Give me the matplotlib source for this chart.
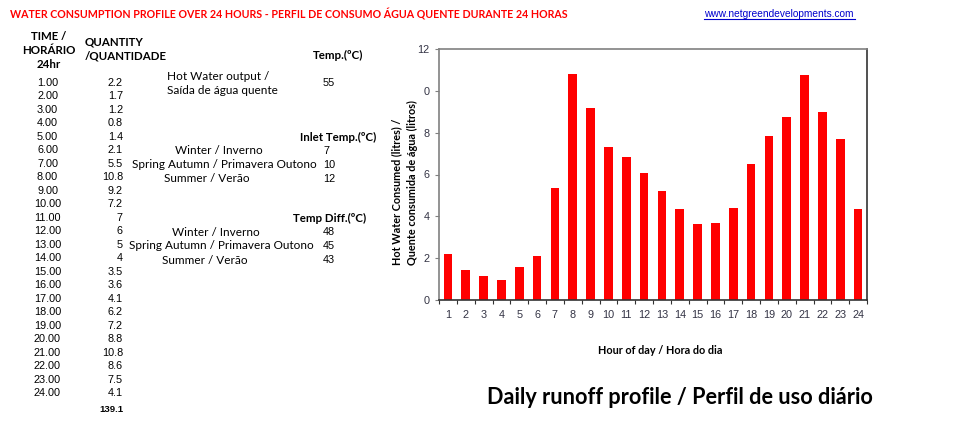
import numpy as np
import matplotlib
matplotlib.use("Agg")
import matplotlib.pyplot as plt

# table data (left side of sheet)
times = ["%d.00" % h for h in range(1, 25)]
quantities = ["2.2", "1.7", "1.2", "0.8", "1.4", "2.1", "5.5", "10.8", "9.2", "7.2",
              "7", "6", "5", "4", "3.5", "3.6", "4.1", "6.2", "7.2", "8.8",
              "10.8", "8.6", "7.5", "4.1"]
total = "139.1"
seasons = ["Winter / Inverno", "Spring Autumn / Primavera Outono", "Summer / Verão"]
inlet_temps = ["7", "10", "12"]
temp_diffs = ["48", "45", "43"]
hot_water_temp = "55"

# bar chart data
hours = np.arange(1, 25)
consumed = [2.22, 1.42, 1.15, 0.98, 1.57, 2.11, 5.34, 10.82, 9.17, 7.33,
            6.86, 6.05, 5.23, 4.34, 3.65, 3.68, 4.42, 6.5, 7.82, 8.74,
            10.78, 8.98, 7.71, 4.35]
ytick_vals = [0, 2, 4, 6, 8, 10, 12]
ytick_labels = ["0", "2", "4", "6", "8", "0", "12"]

W, H = 960, 430
fig = plt.figure(figsize=(W / 100, H / 100), dpi=100)

CAL = ["Lato", "DejaVu Sans"]
ARL = ["Liberation Sans", "DejaVu Sans"]


def px(x, y, s, **kw):
    # place text using pixel coords of the screenshot
    fig.text(x / W, 1 - y / H, s, **kw)


# header line
px(10, 14, "WATER CONSUMPTION PROFILE OVER 24 HOURS - PERFIL DE CONSUMO ÁGUA QUENTE DURANTE 24 HORAS",
   color="#ff0000", fontsize=7.7, fontweight="bold", family=CAL, va="center")
px(704, 14, "www.netgreendevelopments.com", color="#0000cc",
   fontsize=7.3, family=ARL, va="center")
fig.lines.append(plt.Line2D([704 / W, 855 / W], [1 - 19 / H, 1 - 19 / H],
                            transform=fig.transFigure, color="#0000cc", lw=0.8))

# table headers
for y, s in [(37, "TIME /"), (51, "HORÁRIO"), (65, "24hr")]:
    px(49, y, s, fontsize=8.3, fontweight="bold", family=CAL, ha="center", va="center")
px(85, 42, "QUANTITY", fontsize=8.3, fontweight="bold", family=CAL, va="center")
px(85, 56, "/QUANTIDADE", fontsize=8.3, fontweight="bold", family=CAL, va="center")

row_y0, row_step = 83, 13.48
for i in range(24):
    y = row_y0 + i * row_step
    px(47.5, y, times[i], fontsize=7.8, family=ARL, ha="center", va="center")
    px(123, y, quantities[i], fontsize=7.8, family=ARL, ha="right", va="center")
px(123, 410, total, fontsize=6.8, fontweight="bold", family=ARL, ha="right", va="center")

# temperature block
px(338, 55, "Temp.(ºC)", fontsize=8.3, fontweight="bold", family=CAL, ha="center", va="center")
px(167, 76, "Hot Water output /", fontsize=8.5, family=CAL, va="center")
px(167, 91, "Saída de água quente", fontsize=8.5, family=CAL, va="center")
px(323, 83, hot_water_temp, fontsize=7.8, family=ARL, va="center")

px(338, 137, "Inlet Temp.(ºC)", fontsize=8.3, fontweight="bold", family=CAL, ha="center", va="center")
centers = [219, 224, 207]
for i in range(3):
    y = 151 + i * 14
    px(centers[i], y, seasons[i], fontsize=8.5, family=CAL, ha="center", va="center")
    px(323, y, inlet_temps[i], fontsize=7.8, family=ARL, va="center")

px(330, 218, "Temp Diff.(ºC)", fontsize=8.3, fontweight="bold", family=CAL, ha="center", va="center")
centers = [216, 221, 205]
for i in range(3):
    y = 232 + i * 14
    px(centers[i], y, seasons[i], fontsize=8.5, family=CAL, ha="center", va="center")
    px(323, y, temp_diffs[i], fontsize=7.8, family=ARL, va="center")

# bar chart
ax = fig.add_axes([439 / W, 1 - 300 / H, 428 / W, 251 / H])
ax.bar(hours, consumed, width=0.49, color="#ff0000", edgecolor="none")
ax.set_xlim(0.5, 24.5)
ax.set_ylim(0, 12)
ax.set_yticks(ytick_vals)
ax.set_yticklabels(ytick_labels)
ax.set_xticks(np.arange(0.5, 25, 1))
ax.set_xticklabels([])
ax.set_xticks(hours, minor=True)
ax.set_xticklabels([str(h) for h in hours], minor=True)
ax.tick_params(axis="x", which="major", length=3, color="#333333", width=0.8)
ax.tick_params(axis="x", which="minor", length=0, pad=7, labelsize=7.8, labelcolor="#333344")
ax.tick_params(axis="y", length=3, color="#808080", width=0.8, labelsize=7.8, labelcolor="#333344", pad=4)
for lab in ax.get_xticklabels(minor=True) + ax.get_yticklabels():
    lab.set_family(ARL)
ax.spines["left"].set_color("#808080")
ax.spines["top"].set_color("#808080")
ax.spines["bottom"].set_color("#333333")
ax.spines["right"].set_color("#333333")
for sp in ax.spines.values():
    sp.set_linewidth(1.2)

px(397, 265, "Hot Water Consumed (litres) /", fontsize=7.8, fontweight="bold", family=CAL,
   rotation=90, ha="center", va="bottom")
px(412, 265, "Quente consumida de água (litros)", fontsize=7.8, fontweight="bold", family=CAL,
   rotation=90, ha="center", va="bottom")
px(660, 351, "Hour of day / Hora do dia", fontsize=7.8, fontweight="bold", family=CAL,
   ha="center", va="center")
px(680, 397, "Daily runoff profile / Perfil de uso diário", fontsize=15.6, fontweight="bold",
   family=CAL, ha="center", va="center")

fig.savefig("out.png", dpi=100, facecolor="white")
